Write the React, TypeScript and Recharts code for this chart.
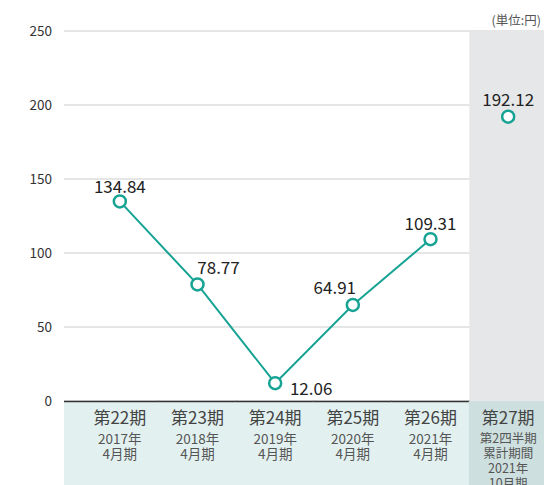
import React from "react";
import { ComposedChart, Line, XAxis, YAxis, CartesianGrid, ReferenceArea, LabelList } from "recharts";

const periods = ["第22期", "第23期", "第24期", "第25期", "第26期", "第27期"];
const subLines = [
  ["2017年", "4月期"],
  ["2018年", "4月期"],
  ["2019年", "4月期"],
  ["2020年", "4月期"],
  ["2021年", "4月期"],
  ["第2四半期", "累計期間", "2021年", "10月期"],
];
const annualEps = [134.84, 78.77, 12.06, 64.91, 109.31, null];
const quarterEps = [null, null, null, null, null, 192.12];
const yTicks = [0, 50, 100, 150, 200, 250];
const unitText = "(単位:円)";

const data = periods.map((p, i) => ({ name: p, annual: annualEps[i], quarter: quarterEps[i] }));

const FONT = "'Noto Sans CJK JP', 'Noto Sans', sans-serif";
const TEAL = "#17a394";
const CHART_W = 547;
const PLOT_LEFT = 64;
const PAD_LEFT = 17;
const BW = (CHART_W - PLOT_LEFT - PAD_LEFT) / periods.length;

const labelOffsets = [
  [0, -16],
  [21, -18],
  [36, 4],
  [-18, -18],
  [0, -17],
  [0, -18],
];

const PointLabel = (props: any) => {
  const { x, y, value, index } = props;
  if (value == null) return null;
  const [dx, dy] = labelOffsets[index] || [0, -16];
  return (
    <text x={x + dx} y={y + dy} textAnchor="middle" dominantBaseline="central" fontSize={17} fill="#222" fontFamily={FONT}>
      {Number(value).toFixed(2)}
    </text>
  );
};

const XTick = (props: any) => {
  const { x, y, payload, index } = props;
  const last = index === periods.length - 1;
  const left = index === 0 ? PLOT_LEFT : x - BW / 2 - 0.5;
  const right = x + BW / 2 + 0.5;
  const lines = subLines[index] || [];
  return (
    <g>
      <rect x={left} y={y} width={right - left} height={90} fill={last ? "#cddfde" : "#e2f1f0"} />
      {!last && <line x1={left} x2={right} y1={y + 0.5} y2={y + 0.5} stroke="#333" strokeWidth={1.5} />}
      <text x={x} y={y + 15} textAnchor="middle" dominantBaseline="central" fontSize={17} fill="#444" fontFamily={FONT}>
        {payload.value}
      </text>
      {lines.map((t: string, i: number) => (
        <text key={i} x={x} y={y + 36.5 + i * 15} textAnchor="middle" dominantBaseline="central" fontSize={last ? 12.5 : 13.5} fill="#555" fontFamily={FONT}>
          {t}
        </text>
      ))}
    </g>
  );
};

export default function App() {
  return (
    <div style={{ position: "absolute", left: 0, top: 0, width: 544, height: 485, overflow: "hidden", background: "#fff" }}>
      <ComposedChart width={CHART_W} height={485} data={data} margin={{ top: 31, right: 0, bottom: 0, left: 0 }}>
        <ReferenceArea x1="第27期" x2="第27期" y1={0} y2={250} fill="#e6e7e8" fillOpacity={1} stroke="none" ifOverflow="visible" />
        <CartesianGrid vertical={false} stroke="#cccccc" strokeWidth={1} />
        <XAxis
          dataKey="name"
          scale="band"
          height={84}
          axisLine={false}
          tickLine={false}
          tickSize={0}
          tickMargin={0}
          padding={{ left: PAD_LEFT, right: 0 }}
          tick={<XTick />}
          interval={0}
        />
        <YAxis
          width={PLOT_LEFT}
          domain={[0, 250]}
          ticks={yTicks}
          axisLine={false}
          tickLine={false}
          tick={{ fontSize: 13.5, fill: "#333", fontFamily: FONT }}
          tickMargin={6}
        />
        <Line
          dataKey="annual"
          stroke={TEAL}
          strokeWidth={2}
          dot={{ r: 6, stroke: TEAL, strokeWidth: 2.5, fill: "#fff" }}
          isAnimationActive={false}
          connectNulls={false}
        >
          <LabelList dataKey="annual" content={<PointLabel />} />
        </Line>
        <Line
          dataKey="quarter"
          stroke="none"
          dot={{ r: 6, stroke: TEAL, strokeWidth: 2.5, fill: "#fff" }}
          isAnimationActive={false}
        >
          <LabelList dataKey="quarter" content={<PointLabel />} />
        </Line>
      </ComposedChart>
      <div style={{ position: "absolute", right: 3, top: 10, fontSize: 12.5, color: "#555", fontFamily: FONT }}>{unitText}</div>
    </div>
  );
}
